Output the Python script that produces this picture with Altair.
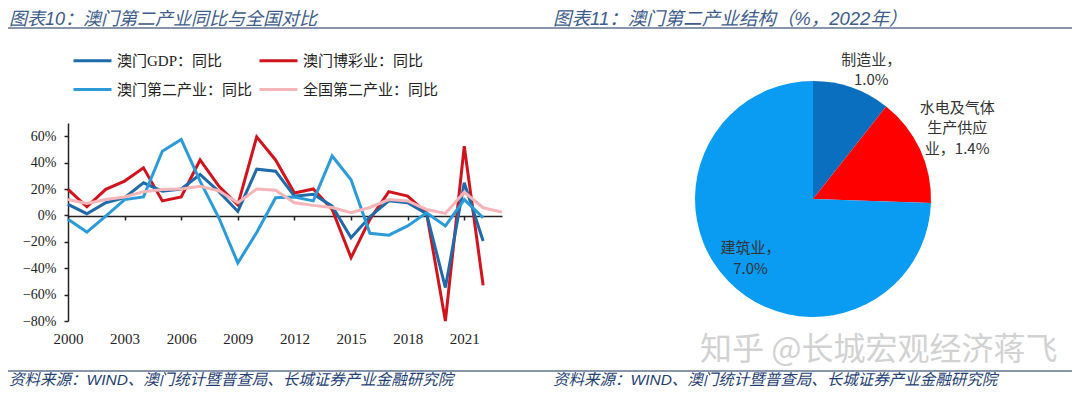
import altair as alt
import pandas as pd

# ---------------- data ----------------
years = list(range(2000, 2023))
gdp_yoy = [8.3, 1.3, 9.6, 13.4, 24.7, 18.4, 20, 31, 18, 3, 35, 33.5, 14.6, 16, 7, -17, -1, 11, 9.6, 1.3, -54.7, 24.7, -19.4]
gaming_yoy = [19.7, 6.5, 19.7, 26, 36, 11, 14, 42, 22, 8, 59.5, 42, 17, 20, 4.5, -32, -3, 18, 14.6, 2, -80, 52.4, -53]
macau_secondary_yoy = [-3, -12.6, -0.5, 12, 14, 48.6, 57.5, 26, -2, -36, -13, 13.4, 14, 11, 45, 27, -13.6, -15, -8, 2, -8, 12, -1.8]
nat_years = list(range(2000, 2024))
national_secondary_yoy = [12, 9, 12, 14, 18, 19.7, 20, 22, 18.6, 9.6, 20, 19, 9.6, 7.6, 6, 2, 6, 12, 11, 4.5, 1.5, 17.6, 5.8, 2.5]

# legend laid out column by column: (GDP, 第二产业) | (博彩, 全国)
series_names = ["澳门GDP：同比", "澳门第二产业：同比", "澳门博彩业：同比", "全国第二产业：同比"]
series_colors = ["#1F6AA8", "#2B9BD8", "#D0141E", "#F4B4B8"]

x_tick_years = [2000, 2003, 2006, 2009, 2012, 2015, 2018, 2021]
y_ticks = [-80, -60, -40, -20, 0, 20, 40, 60]

pie_cats = ["制造业", "水电及气体生产供应业", "建筑业"]
pie_vals = [1.0, 1.4, 7.0]
pie_order = [0, 1, 2]
pie_labels = ["制造业，\n1.0%", "水电及气体\n生产供应\n业，1.4%", "建筑业，\n7.0%"]
pie_colors = ["#0B6FC0", "#FF0000", "#0A9BF2"]

title_left = "图表10：澳门第二产业同比与全国对比"
title_right = "图表11：澳门第二产业结构（%，2022年）"
source_text = "资料来源：WIND、澳门统计暨普查局、长城证券产业金融研究院"
watermark = "知乎 @长城宏观经济蒋飞"

# ---------------- layout ----------------
W, H = 1064, 379
SERIF = "Liberation Serif, Noto Sans CJK SC"
CJK = "Noto Sans CJK SC"
TITLE_FONT = "Liberation Sans, Noto Sans CJK SC"

x_scale = alt.Scale(domain=[2000, 2023], range=[60, 494], nice=False, zero=False)
y_scale = alt.Scale(domain=[-80, 70], range=[313, 115], nice=False, zero=False)
color_scale = alt.Scale(domain=series_names, range=series_colors)

x_axis = alt.Axis(values=x_tick_years, format="d", offset=-171, domainColor="#222",
                  domainWidth=1.5, tickColor="#222", tickWidth=1.5, tickSize=4,
                  labelPadding=111, labelFont=SERIF, labelFontSize=15, labelColor="#222",
                  grid=False, title=None, labelFlush=False)
y_axis = alt.Axis(values=y_ticks, labelExpr="datum.label + '%'", offset=-60,
                  domainColor="#222", domainWidth=1.5, tickColor="#222", tickWidth=1.5,
                  tickSize=4, labelPadding=8, labelFont=SERIF, labelFontSize=14,
                  labelColor="#222", grid=False, title=None)


def line_layer(xs, ys, name):
    df = pd.DataFrame({"year": xs, "v": ys, "s": [name] * len(xs)})
    return alt.Chart(df).mark_line(strokeWidth=3).encode(
        x=alt.X("year:Q", scale=x_scale, axis=x_axis),
        y=alt.Y("v:Q", scale=y_scale, axis=y_axis),
        color=alt.Color("s:N", scale=color_scale, title=None),
    )


lines = [
    line_layer(years, gaming_yoy, "澳门博彩业：同比"),
    line_layer(years, gdp_yoy, "澳门GDP：同比"),
    line_layer(years, macau_secondary_yoy, "澳门第二产业：同比"),
    line_layer(nat_years, national_secondary_yoy, "全国第二产业：同比"),
]

pie_df = pd.DataFrame({"cat": pie_cats, "val": pie_vals, "ord": pie_order, "label": pie_labels})
PX, PY = 805, 191

arc = alt.Chart(pie_df).mark_arc(outerRadius=118, strokeWidth=0).encode(
    theta=alt.Theta("val:Q", stack=True),
    order=alt.Order("ord:Q"),
    fill=alt.Fill("cat:N", scale=alt.Scale(domain=pie_cats, range=pie_colors), legend=None),
    x=alt.value(PX), y=alt.value(PY),
)


def pie_label(k, radius, dx=0, dy=0):
    return alt.Chart(pie_df).transform_calculate(
        t=f"datum.ord == {k} ? datum.label : ''"
    ).mark_text(radius=radius, dx=dx, dy=dy, font=CJK, fontSize=15, color="#333",
                lineBreak="\n", lineHeight=20.5, align="center", baseline="middle").encode(
        theta=alt.Theta("val:Q", stack=True),
        order=alt.Order("ord:Q"),
        detail="cat:N",
        text="t:N",
        x=alt.value(PX), y=alt.value(PY),
    )


labels = [pie_label(0, 138, 13, -9), pie_label(1, 160, -1, -24), pie_label(2, 87, 0, -11)]


def text_layer(txt, x, y, size, color, style="normal", font=CJK, baseline="middle"):
    return alt.Chart(pd.DataFrame({"t": [txt]})).mark_text(
        font=font, fontSize=size, color=color, fontStyle=style,
        align="left", baseline=baseline).encode(x=alt.value(x), y=alt.value(y), text="t:N")


def hrule(x1, x2, y, color, width):
    return alt.Chart(pd.DataFrame({"a": [0]})).mark_rule(color=color, strokeWidth=width).encode(
        x=alt.value(x1), x2=alt.value(x2), y=alt.value(y))


deco = [
    text_layer(title_left, 1, 17, 18, "#3D5C8A", style="italic", font=TITLE_FONT, baseline="alphabetic"),
    text_layer(title_right, 545, 17, 18.5, "#3D5C8A", style="italic", font=TITLE_FONT, baseline="alphabetic"),
    hrule(0, W, 20, "#8796AB", 2),
    hrule(0, W, 363, "#8796AB", 2),
    text_layer(source_text, 1, 371.5, 15.5, "#1F3F73", style="italic", font=TITLE_FONT),
    text_layer(source_text, 545, 371.5, 15.5, "#1F3F73", style="italic", font=TITLE_FONT),
    text_layer(watermark, 692, 342, 32, "#D2D2D2"),
]

chart = alt.layer(*lines, arc, *labels, *deco).properties(
    width=W, height=H, autosize=alt.AutoSizeParams(type="none"), padding=0
).configure_view(stroke=None).configure_legend(
    orient="none", legendX=64, legendY=32, columns=2, symbolType="stroke",
    symbolSize=1444, symbolStrokeWidth=3, labelFont=SERIF, labelFontSize=15,
    labelColor="#222", labelOffset=4, columnPadding=0, rowPadding=0, labelLimit=400,
    padding=0,
)

chart.save("out.html", embed_options={"renderer": "svg", "actions": False})
